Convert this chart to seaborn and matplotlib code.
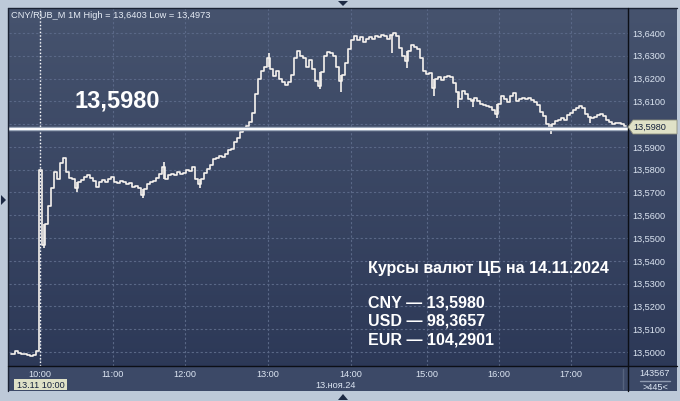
#!/usr/bin/env python3
"""CNY/RUB 1-minute chart, 13.11.2024, terminal style."""

import matplotlib

matplotlib.use("Agg")

import matplotlib.pyplot as plt
import numpy as np
import pandas as pd
import seaborn as sns
from matplotlib.colors import LinearSegmentedColormap
from matplotlib.lines import Line2D
from matplotlib.patches import Polygon, Rectangle

# ---- data (1 bar = one sample of the minute chart) ----
close = [
    13.4992, 13.4990, 13.5006, 13.4994, 13.4992, 13.4992, 13.4989, 13.4982, 13.4986, 13.5004,
    13.5800, 13.5470, 13.5560, 13.5640, 13.5720, 13.5790, 13.5760, 13.5830, 13.5850, 13.5790,
    13.5765, 13.5760, 13.5720, 13.5745, 13.5755, 13.5770, 13.5775, 13.5765, 13.5750, 13.5725,
    13.5745, 13.5755, 13.5745, 13.5760, 13.5770, 13.5745, 13.5740, 13.5750, 13.5745, 13.5735,
    13.5740, 13.5725, 13.5730, 13.5720, 13.5690, 13.5715, 13.5735, 13.5745, 13.5750, 13.5765,
    13.5780, 13.5810, 13.5760, 13.5775, 13.5780, 13.5775, 13.5790, 13.5780, 13.5785, 13.5800,
    13.5795, 13.5810, 13.5760, 13.5735, 13.5760, 13.5785, 13.5805, 13.5820, 13.5845, 13.5850,
    13.5860, 13.5855, 13.5870, 13.5885, 13.5890, 13.5920, 13.5940, 13.5965, 13.5985, 13.5990,
    13.6010, 13.6050, 13.6130, 13.6200, 13.6235, 13.6250, 13.6290, 13.6240, 13.6210, 13.6235,
    13.6200, 13.6185, 13.6170, 13.6185, 13.6215, 13.6290, 13.6320, 13.6300, 13.6290, 13.6250,
    13.6280, 13.6240, 13.6190, 13.6165, 13.6230, 13.6300, 13.6315, 13.6310, 13.6300, 13.6250,
    13.6190, 13.6215, 13.6270, 13.6330, 13.6370, 13.6385, 13.6370, 13.6380, 13.6360, 13.6375,
    13.6380, 13.6375, 13.6385, 13.6380, 13.6390, 13.6385, 13.6375, 13.6390, 13.6398, 13.6385,
    13.6335, 13.6300, 13.6275, 13.6320, 13.6345, 13.6340, 13.6330, 13.6290, 13.6235, 13.6220,
    13.6225, 13.6160, 13.6200, 13.6205, 13.6195, 13.6205, 13.6210, 13.6205, 13.6180, 13.6140,
    13.6110, 13.6145, 13.6130, 13.6110, 13.6100, 13.6115, 13.6100, 13.6090, 13.6085, 13.6080,
    13.6075, 13.6060, 13.6045, 13.6090, 13.6125, 13.6110, 13.6095, 13.6125, 13.6135, 13.6100,
    13.6110, 13.6115, 13.6110, 13.6115, 13.6105, 13.6095, 13.6085, 13.6055, 13.6035, 13.6000,
    13.5985, 13.6000, 13.6015, 13.6020, 13.6025, 13.6020, 13.6040, 13.6050, 13.6060, 13.6070,
    13.6080, 13.6070, 13.6045, 13.6030, 13.6025, 13.6030, 13.6040, 13.6045, 13.6035, 13.6020,
    13.6010, 13.6000, 13.6003, 13.6005, 13.6000, 13.5990,
]

# visible wicks of single bars
wick_bar = [11, 22, 44, 51, 63, 86, 103, 110, 127, 132, 141, 149, 154, 162, 180, 193]
wick_low = [13.5455, 13.5700, 13.5675, 13.5760, 13.5720, 13.6250, 13.6155, 13.6140,
            13.6310, 13.6245, 13.6125, 13.6070, 13.6075, 13.6025, 13.5955, 13.6005]
wick_high = [13.5560, 13.5745, 13.5715, 13.5835, 13.5760, 13.6310, 13.6230, 13.6215,
             13.6390, 13.6320, 13.6200, 13.6140, 13.6110, 13.6090, 13.6000, 13.6030]

hour_pos = [9.93, 34.07, 58.17, 85.7, 113.5, 138.83, 162.73, 186.83]
hour_labels = ["10:00", "11:00", "12:00", "13:00", "14:00", "15:00", "16:00", "17:00"]
price_levels = [13.50, 13.51, 13.52, 13.53, 13.54, 13.55, 13.56, 13.57,
                13.58, 13.59, 13.60, 13.61, 13.62, 13.63, 13.64]
cbr_rate = 13.5980
cursor_pos = 9.93

title_text = "CNY/RUB_M 1M High = 13,6403 Low = 13,4973"
info_title = "Курсы валют ЦБ на 14.11.2024"
info_lines = ["CNY — 13,5980", "USD — 98,3657", "EUR — 104,2901"]

W, H = 680, 401
FRAME = "#bdc9d8"
LABEL = "#dce5f2"
TAG = "#dfe1c7"


def fx(px):
    return px / W


def fy(py):
    return 1 - py / H


def comma(v):
    return f"{v:.4f}".replace(".", ",")


sns.set_theme(style="dark")
plt.rcParams["font.family"] = ["Liberation Sans", "DejaVu Sans"]

fig = plt.figure(figsize=(W / 100, H / 100), dpi=100, facecolor=FRAME)

# dark panel with vertical gradient
bg = fig.add_axes([fx(8), fy(391), (677 - 8) / W, (391 - 8) / H], zorder=0)
grad = np.linspace(0, 1, 256).reshape(-1, 1)
cmap = LinearSegmentedColormap.from_list("panel", ["#2b3756", "#46536e"])
bg.imshow(grad, aspect="auto", cmap=cmap, origin="lower", extent=[0, 1, 0, 1])
bg.set_axis_off()

# bottom time-scale strip
fig.add_artist(Rectangle((fx(8), fy(391)), (677 - 8) / W, 25 / H, transform=fig.transFigure,
                         facecolor="#3c4967", edgecolor="none", zorder=0.5))

ax = fig.add_axes([fx(9), fy(366), (628 - 9) / W, (366 - 8) / H], zorder=1)
ax.patch.set_alpha(0)

df = pd.DataFrame({"bar": np.arange(len(close)), "close": close})
sns.lineplot(data=df, x="bar", y="close", drawstyle="steps-mid", color="#f6f2ee",
             linewidth=1.2, estimator=None, ax=ax, zorder=4)
ax.vlines(wick_bar, wick_low, wick_high, color="#f6f2ee", linewidth=1.2, zorder=4)

# CB rate line
ax.axhline(cbr_rate, color="#9ca8ba", linewidth=3.2, zorder=5)
ax.axhline(cbr_rate, color="#ffffff", linewidth=1.4, zorder=6)
# cursor
ax.axvline(cursor_pos, color="#ffffff", linewidth=1.0, linestyle=(0, (1, 1.5)), zorder=3)

ax.set_xlim(-0.5, 205.83)
ax.set_ylim(13.49386, 13.65094)
ax.set_xticks(hour_pos)
ax.set_xticklabels(hour_labels)
ax.set_yticks(price_levels)
# the 13,6000 label sits under the price tag
ax.set_yticklabels(["" if abs(v - 13.60) < 1e-9 else comma(v) for v in price_levels])
ax.yaxis.tick_right()
ax.tick_params(axis="both", length=0, labelsize=6.6, labelcolor=LABEL)
ax.tick_params(axis="y", pad=3)
ax.tick_params(axis="x", pad=3)
ax.grid(True, color="#5a6887", linestyle=(0, (2, 2)), linewidth=0.8)
ax.set_xlabel("")
ax.set_ylabel("")
for side in ax.spines.values():
    side.set_visible(False)

# separators and frame
for x0, y0, x1, y1, c in [
    (8, 8, 677, 8, "#1a2233"),
    (8, 8, 8, 391, "#1a2233"),
    (8, 366, 677, 366, "#0c0f16"),
    (628, 8, 628, 391, "#0c0f16"),
    (623, 369, 623, 389, "#56637e"),
    (640, 381, 670, 381, "#8e9ab0"),
]:
    fig.add_artist(Line2D([fx(x0), fx(x1)], [fy(y0), fy(y1)], transform=fig.transFigure,
                          color=c, linewidth=1.0, zorder=2))

# price tag at the scale
tag = [(628, 127), (633, 120), (677, 120), (677, 134), (633, 134)]
fig.add_artist(Polygon([(fx(x), fy(y)) for x, y in tag], closed=True, transform=fig.transFigure,
                       facecolor=TAG, edgecolor="#8f917e", linewidth=0.6, zorder=3))
fig.text(fx(633), fy(127.5), comma(cbr_rate), fontsize=6.6, color="#14203c",
         va="center", ha="left", zorder=4)

# cursor date tag
fig.add_artist(Rectangle((fx(14), fy(390)), 53 / W, 11 / H, transform=fig.transFigure,
                         facecolor=TAG, edgecolor="none", zorder=3))
fig.text(fx(40.5), fy(385), "13.11 10:00", fontsize=6.6, color="#14203c",
         va="center", ha="center", zorder=4)
fig.text(fx(336), fy(386), "13.ноя.24", fontsize=6.6, color=LABEL, va="center", ha="center", zorder=4)
fig.text(fx(655), fy(373.5), "143567", fontsize=6.6, color=LABEL, va="center", ha="center", zorder=4)
fig.text(fx(655), fy(387), ">445<", fontsize=6.6, color=LABEL, va="center", ha="center", zorder=4)

# header and annotations
fig.text(fx(11), fy(15), title_text, fontsize=6.7, color="#e6ecf5", va="center", ha="left", zorder=4)
fig.text(fx(75), fy(101), comma(cbr_rate), fontsize=17, fontweight="bold", color="#ffffff",
         va="center", ha="left", zorder=4)
fig.text(fx(368), fy(268), info_title, fontsize=11.5, fontweight="bold", color="#ffffff",
         va="center", ha="left", zorder=4)
for i, line in enumerate(info_lines):
    fig.text(fx(368), fy(303 + 18.5 * i), line, fontsize=11.5, fontweight="bold", color="#ffffff",
             va="center", ha="left", zorder=4)

# small scroll arrows on the frame
for pts in [
    [(1, 195), (1, 205), (6, 200)],
    [(338, 1), (348, 1), (343, 6)],
    [(338, 400), (348, 400), (343, 394)],
]:
    fig.add_artist(Polygon([(fx(x), fy(y)) for x, y in pts], closed=True, transform=fig.transFigure,
                           facecolor="#1d2a44", edgecolor="none", zorder=3))

fig.savefig("out.png", dpi=100, facecolor=FRAME)
